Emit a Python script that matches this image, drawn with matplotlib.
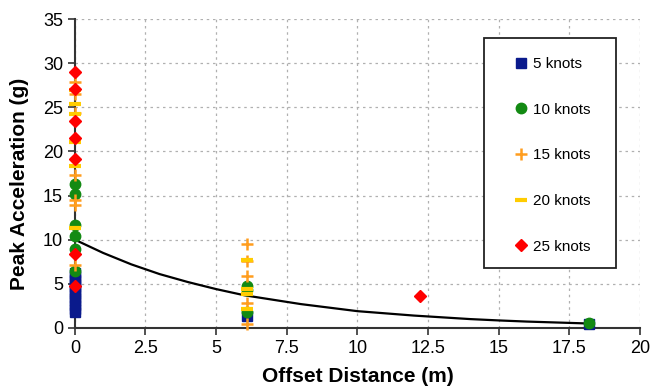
import matplotlib.pyplot as plt
from matplotlib.patches import Rectangle

plt.rcParams['font.family'] = ['Liberation Sans', 'DejaVu Sans']

# measured peak accelerations (g) by offset distance (m)
x5 = [0] * 12 + [6.1, 18.2]
y5 = [1.8, 2.2, 2.6, 3.0, 3.4, 3.8, 4.2, 4.6, 5.0, 5.4, 5.8, 6.2, 1.4, 0.5]

x10 = [0, 0, 0, 0, 0, 0, 6.1, 6.1, 6.1, 18.2]
y10 = [6.5, 9.0, 10.4, 11.7, 15.2, 16.3, 4.8, 4.3, 1.8, 0.6]

x15 = [0, 0, 0, 0, 0, 0, 0, 6.1, 6.1, 6.1, 6.1, 6.1]
y15 = [7.1, 13.9, 14.5, 17.3, 24.4, 26.5, 27.9, 9.5, 7.6, 5.9, 2.8, 0.4]

x20 = [0, 0, 0, 0, 0, 0, 6.1, 6.1, 6.1, 6.1]
y20 = [11.3, 18.4, 21.1, 24.2, 25.4, 27.0, 7.7, 4.4, 3.9, 2.1]

x25 = [0, 0, 0, 0, 0, 0, 0, 12.2]
y25 = [4.8, 8.4, 19.1, 21.5, 23.4, 27.1, 29.0, 3.6]

# fitted trend
fit_x = [0, 1, 2, 3, 4, 5, 6, 7, 8, 9, 10, 11, 12, 13, 14, 15, 16, 17, 18.2]
fit_y = [10.0, 8.5, 7.2, 6.1, 5.2, 4.4, 3.7, 3.2, 2.7, 2.3, 1.9, 1.65, 1.4, 1.2, 1.0, 0.85, 0.72, 0.62, 0.5]

fig = plt.figure(figsize=(6.51, 3.89), dpi=100)
ax = fig.add_axes([0.115, 0.157, 0.868, 0.794])

ax.plot(fit_x, fit_y, color='black', lw=1.6, zorder=2)

ms = 7
kw = dict(ls='none', zorder=3, clip_on=False)
ax.plot(x5, y5, 's', color='#0a1a8c', ms=ms, label='5 knots', **kw)
ax.plot(x10, y10, 'o', color='#138a13', ms=ms + 0.5, label='10 knots', **kw)
ax.plot(x15, y15, '+', color='#ff9d1e', ms=ms + 2, mew=1.8, label='15 knots', **kw)
ax.plot(x20, y20, '_', color='#ffcc00', ms=ms + 2, mew=3, label='20 knots', **kw)
ax.plot(x25, y25, 'D', color='#ff0000', ms=ms - 1, label='25 knots', **kw)

ax.set_xlim(0, 20)
ax.set_ylim(0, 35)
ax.set_xticks([0, 2.5, 5, 7.5, 10, 12.5, 15, 17.5, 20])
ax.set_xticklabels(['0', '2.5', '5', '7.5', '10', '12.5', '15', '17.5', '20'])
ax.set_yticks(range(0, 36, 5))
ax.tick_params(labelsize=13, direction='out', length=5, width=1.2, color='#333333')

ax.grid(True, ls=(0, (2, 3)), color='#b0b0b0', lw=0.9)
ax.set_axisbelow(True)
for s in ['top', 'right']:
    ax.spines[s].set_visible(False)
for s in ['left', 'bottom']:
    ax.spines[s].set_linewidth(1.5)
    ax.spines[s].set_color('#333333')

ax.set_xlabel('Offset Distance (m)', fontsize=15, fontweight='bold')
ax.set_ylabel('Peak Acceleration (g)', fontsize=15, fontweight='bold')
ax.xaxis.set_label_coords(0.5, -0.125)
ax.yaxis.set_label_coords(-0.081, 0.465)

# legend box drawn by hand, entries spread out like the original
ax.add_patch(Rectangle((0.724, 0.194), 0.2335, 0.744, transform=ax.transAxes,
                       facecolor='white', edgecolor='#222222', lw=1.3,
                       clip_on=False, zorder=4))
leg = ax.legend(loc='upper left', bbox_to_anchor=(0.776, 0.877), frameon=False,
                fontsize=11, labelspacing=2.07, handlelength=1.0,
                handletextpad=0.3, borderpad=0, borderaxespad=0)
leg.set_zorder(5)

plt.savefig('out.png', dpi=100)
